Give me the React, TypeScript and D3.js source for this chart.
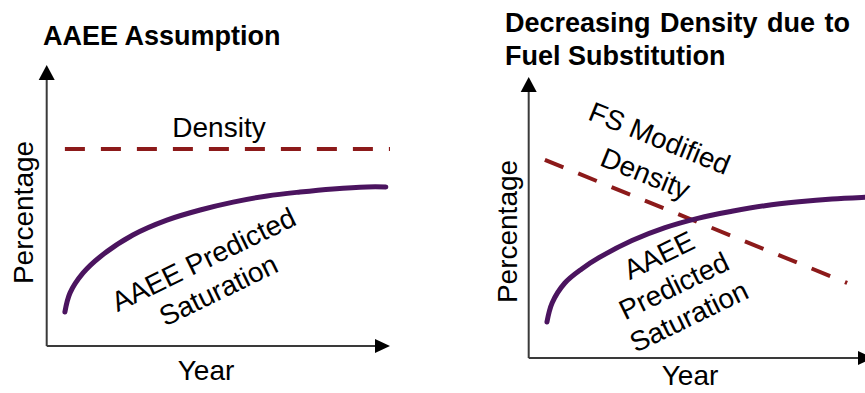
import React from "react";
import * as d3 from "d3";

// ---- Data (conceptual units: Year 0..10, Percentage 0..10) ----
const leftSatX = [0.53, 0.68, 1.06, 1.55, 2.51, 3.5, 4.47, 5.43, 6.42, 7.38, 8.34, 9.33, 9.88];
const leftSatY = [1.21, 1.89, 2.6, 3.17, 3.95, 4.48, 4.84, 5.12, 5.34, 5.48, 5.59, 5.66, 5.66];
const leftDensX = [0.53, 10];
const leftDensY = [7.01, 7.01];

const rightSatX = [0.53, 0.68, 1.05, 1.55, 2.04, 3.0, 3.96, 4.94, 5.9, 6.86, 7.85, 8.81, 9.77, 10.2];
const rightSatY = [1.28, 1.96, 2.67, 3.18, 3.57, 4.18, 4.64, 4.98, 5.22, 5.42, 5.56, 5.66, 5.72, 5.74];
const rightDensX = [0.47, 9.25];
const rightDensY = [7.05, 2.67];

const titles = ["AAEE Assumption", "Decreasing Density due to", "Fuel Substitution"];
const xLabel = "Year";
const yLabel = "Percentage";
const leftDensLabel = ["Density"];
const leftSatLabel = ["AAEE Predicted", "Saturation"];
const rightDensLabel = ["FS Modified", "Density"];
const rightSatLabel = ["AAEE", "Predicted", "Saturation"];

const FONT = "'Liberation Sans', Arial, Helvetica, sans-serif";
const DENS_COLOR = "#8C1A1A";
const SAT_COLOR = "#4B145F";
const AXIS_COLOR = "#3a3a3a";

type PanelProps = {
  xRange: [number, number];
  yRange: [number, number];
  satX: number[];
  satY: number[];
  densX: number[];
  densY: number[];
};

function Panel({ xRange, yRange, satX, satY, densX, densY }: PanelProps) {
  const x = d3.scaleLinear().domain([0, 10]).range(xRange);
  const y = d3.scaleLinear().domain([0, 10]).range(yRange);
  const x0 = x(0), y0 = y(0), xT = x(10), yT = y(10);
  const ah = 15, aw = 8;
  const line = d3
    .line<[number, number]>()
    .x((d) => x(d[0]))
    .y((d) => y(d[1]))
    .curve(d3.curveCatmullRom.alpha(0.5));
  const straight = d3
    .line<[number, number]>()
    .x((d) => x(d[0]))
    .y((d) => y(d[1]));
  const sat = satX.map((v, i) => [v, satY[i]] as [number, number]);
  const dens = densX.map((v, i) => [v, densY[i]] as [number, number]);
  return (
    <g>
      <line x1={x0} y1={y0} x2={x0} y2={yT + ah} stroke={AXIS_COLOR} strokeWidth={2} />
      <line x1={x0} y1={y0} x2={xT - ah} y2={y0} stroke={AXIS_COLOR} strokeWidth={2} />
      <polygon points={`${x0},${yT} ${x0 - aw},${yT + ah} ${x0 + aw},${yT + ah}`} fill="#000" />
      <polygon points={`${xT},${y0} ${xT - ah},${y0 - aw + 1} ${xT - ah},${y0 + aw - 1}`} fill="#000" />
      <path d={straight(dens) || ""} fill="none" stroke={DENS_COLOR} strokeWidth={4} strokeDasharray="20 16" />
      <path d={line(sat) || ""} fill="none" stroke={SAT_COLOR} strokeWidth={5} strokeLinecap="round" />
    </g>
  );
}

function Lines({ lines, cx, cy, angle, spacing }: { lines: string[]; cx: number; cy: number; angle: number; spacing: number }) {
  const off = ((lines.length - 1) * spacing) / 2;
  return (
    <g transform={`translate(${cx},${cy}) rotate(${angle})`}>
      {lines.map((t, i) => (
        <text key={i} x={0} y={i * spacing - off} textAnchor="middle" dominantBaseline="central" fontSize={28}>
          {t}
        </text>
      ))}
    </g>
  );
}

export default function App() {
  return (
    <svg
      width={865}
      height={393}
      viewBox="0 0 865 393"
      style={{ position: "absolute", left: 0, top: 0, background: "#fff" }}
      fontFamily={FONT}
    >
      <rect x={0} y={0} width={865} height={393} fill="#fff" />
      {/* Left panel */}
      <text x={43} y={45} fontSize={27} fontWeight="bold">{titles[0]}</text>
      <Panel xRange={[46.7, 390]} yRange={[346, 65]} satX={leftSatX} satY={leftSatY} densX={leftDensX} densY={leftDensY} />
      <text x={219} y={137} textAnchor="middle" fontSize={28}>{leftDensLabel[0]}</text>
      <text x={206} y={380} textAnchor="middle" fontSize={28}>{xLabel}</text>
      <text transform="translate(33,212.5) rotate(-90)" textAnchor="middle" fontSize={28}>{yLabel}</text>
      <Lines lines={leftSatLabel} cx={211} cy={275} angle={-26} spacing={34} />

      {/* Right panel */}
      <text x={505} y={32} fontSize={27} fontWeight="bold" wordSpacing={2}>{titles[1]}</text>
      <text x={505} y={65} fontSize={27} fontWeight="bold">{titles[2]}</text>
      <Panel xRange={[528.7, 873]} yRange={[358, 77]} satX={rightSatX} satY={rightSatY} densX={rightDensX} densY={rightDensY} />
      <text x={690} y={385} textAnchor="middle" fontSize={28}>{xLabel}</text>
      <text transform="translate(517,231.5) rotate(-90)" textAnchor="middle" fontSize={28}>{yLabel}</text>
      <Lines lines={rightDensLabel} cx={652.5} cy={156} angle={22} spacing={38} />
      <Lines lines={rightSatLabel} cx={674} cy={286} angle={-26} spacing={34} />
    </svg>
  );
}
